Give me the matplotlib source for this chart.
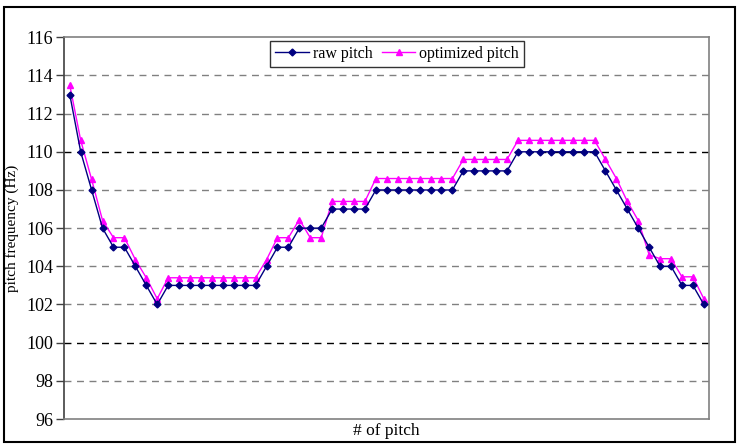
import matplotlib
matplotlib.use("Agg")
import matplotlib.pyplot as plt
from matplotlib.patches import Rectangle

raw_pitch = [113, 110, 108, 106, 105, 105, 104, 103, 102,
             103, 103, 103, 103, 103, 103, 103, 103, 103,
             104, 105, 105, 106, 106, 106, 107, 107, 107, 107,
             108, 108, 108, 108, 108, 108, 108, 108,
             109, 109, 109, 109, 109,
             110, 110, 110, 110, 110, 110, 110, 110,
             109, 108, 107, 106, 105, 104, 104, 103, 103, 102]
optimized_pitch = [113.5, 110.6, 108.55, 106.4, 105.5, 105.5, 104.35, 103.4, 102.3,
                   103.4, 103.4, 103.4, 103.4, 103.4, 103.4, 103.4, 103.4, 103.4,
                   104.35, 105.5, 105.5, 106.45, 105.5, 105.5, 107.4, 107.4, 107.4, 107.4,
                   108.6, 108.6, 108.6, 108.6, 108.6, 108.6, 108.6, 108.6,
                   109.6, 109.6, 109.6, 109.6, 109.6,
                   110.6, 110.6, 110.6, 110.6, 110.6, 110.6, 110.6, 110.6,
                   109.6, 108.6, 107.4, 106.4, 104.6, 104.4, 104.4, 103.45, 103.45, 102.3]
y_ticks = [96, 98, 100, 102, 104, 106, 108, 110, 112, 114, 116]

plt.rcParams['font.family'] = ['Liberation Serif', 'DejaVu Serif']

fig = plt.figure(figsize=(7.44, 4.46), dpi=100)
ax = fig.add_axes([64.3/744, 1-419/446, (709.3-64.3)/744, (419-37.3)/446])

x = list(range(1, len(raw_pitch) + 1))

dark_lines = {100, 110}
for yv in y_ticks[1:-1]:
    ax.axhline(yv, color='black' if yv in dark_lines else '#808080',
               lw=1.0, ls=(0, (5, 4)), zorder=0)

ax.plot(x, raw_pitch, color='#000080', lw=1.0, marker='D', ms=3.5,
        mfc='#000080', mec='#000080', label='raw pitch', zorder=3)
ax.plot(x, optimized_pitch, color='#FF00FF', lw=1.0, marker='^', ms=5,
        mfc='#FF00FF', mec='#FF00FF', label='optimized pitch', zorder=2)

ax.set_xlim(0.5, len(raw_pitch) + 0.5)
ax.set_ylim(96, 116)
ax.set_yticks(y_ticks)
ax.set_yticklabels([str(v) for v in y_ticks], fontsize=13)
ax.set_xticks([])
ax.tick_params(axis='y', direction='out', length=6, width=1, color='#404040', pad=2)

for side in ['top', 'right', 'bottom']:
    ax.spines[side].set_color('#808080')
    ax.spines[side].set_linewidth(1.2)
ax.spines['left'].set_color('#404040')
ax.spines['left'].set_linewidth(1.2)

ax.set_ylabel('pitch frequency (Hz)', fontsize=11, labelpad=5)
ax.set_xlabel('# of pitch', fontsize=12.5, labelpad=3)

leg = ax.legend(loc='upper center', bbox_to_anchor=(0.516, 1.0), ncol=2,
                fontsize=11.5, frameon=True, fancybox=False, edgecolor='black',
                handlelength=2.1, handletextpad=0.25, columnspacing=0.6,
                borderpad=0.3, borderaxespad=0.25)
leg.get_frame().set_linewidth(1.0)

fig.patches.append(Rectangle((4/744, 1-442/446), (735-4)/744, (442-7)/446,
                             transform=fig.transFigure, fill=False,
                             edgecolor='black', lw=1.5))

fig.savefig('out.png', dpi=100)
